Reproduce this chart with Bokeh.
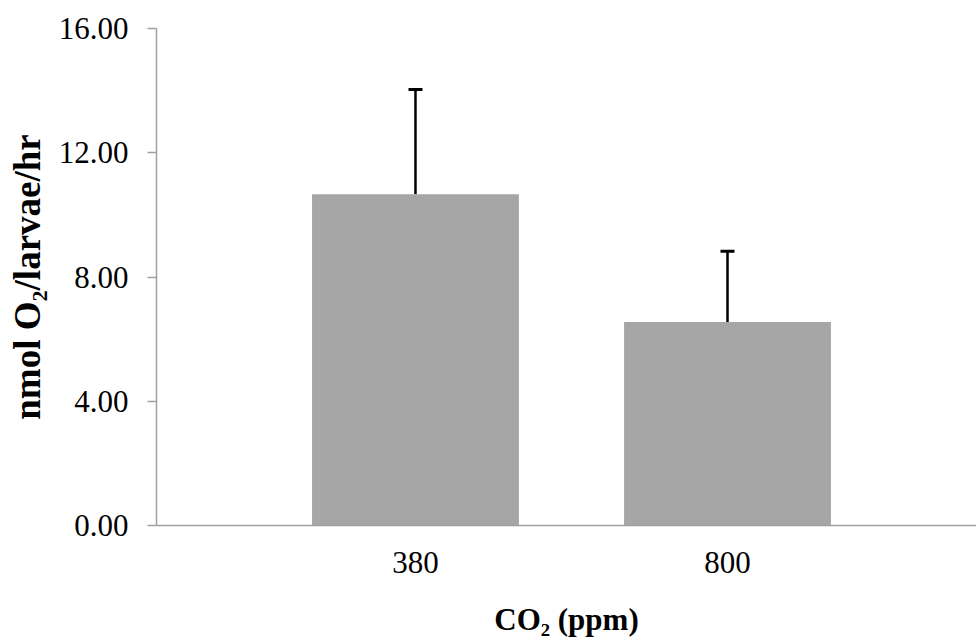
from bokeh.plotting import figure
from bokeh.models import Range1d, FixedTicker, NumeralTickFormatter, Whisker, ColumnDataSource, TeeHead
from bokeh.embed import file_html
from bokeh.resources import INLINE

categories = ["380", "800"]
values = [10.66, 6.55]
errors = [3.38, 2.28]
y_ticks = [0, 4, 8, 12, 16]

xs = [i + 1 for i in range(len(categories))]
upper = [v + e for v, e in zip(values, errors)]
src = ColumnDataSource(dict(x=xs, top=values, upper=upper, lower=values))

p = figure(width=976, height=640, output_backend="svg", toolbar_location=None,
           x_range=Range1d(0.17, 2.798), y_range=Range1d(0, 16),
           min_border_left=156, min_border_right=0, min_border_top=28, min_border_bottom=115)
p.outline_line_color = None
p.grid.visible = False
p.background_fill_color = "white"

p.vbar(x="x", top="top", bottom=0, width=0.663, source=src, fill_color="#A6A6A6", line_color=None)
w = Whisker(base="x", upper="upper", lower="lower", source=src, dimension="height",
            line_color="black", line_width=2.5,
            upper_head=TeeHead(size=14, line_color="black", line_width=3), lower_head=None)
p.add_layout(w)

font = "Liberation Serif"
p.yaxis.ticker = FixedTicker(ticks=y_ticks)
p.yaxis.formatter = NumeralTickFormatter(format="0.00")
p.xaxis.ticker = FixedTicker(ticks=xs)
p.xaxis.major_label_overrides = {x: c for x, c in zip(xs, categories)}
for ax in (p.xaxis, p.yaxis):
    ax.axis_line_color = "#A0A0A0"
    ax.axis_line_width = 1.5
    ax.major_tick_line_color = "#A0A0A0"
    ax.major_tick_line_width = 1.5
    ax.minor_tick_line_color = None
    ax.major_label_text_font = font
    ax.major_label_text_font_size = "31px"
    ax.major_label_text_color = "black"
    ax.axis_label_text_font = font
    ax.axis_label_text_font_style = "bold"
    ax.axis_label_text_color = "black"
p.xaxis.axis_label_text_font_size = "31px"
p.yaxis.axis_label_text_font_size = "37px"
p.yaxis.major_tick_in = 0
p.yaxis.major_tick_out = 9
p.yaxis.major_label_standoff = 19
p.xaxis.major_tick_in = 0
p.xaxis.major_tick_out = 0
p.xaxis.major_label_standoff = 26
p.yaxis.axis_label = "nmol O₂/larvae/hr"
p.xaxis.axis_label = "CO₂ (ppm)"
p.yaxis.axis_label_standoff = 8
p.xaxis.axis_label_standoff = 26

open("out.html", "w").write(file_html(p, INLINE))
